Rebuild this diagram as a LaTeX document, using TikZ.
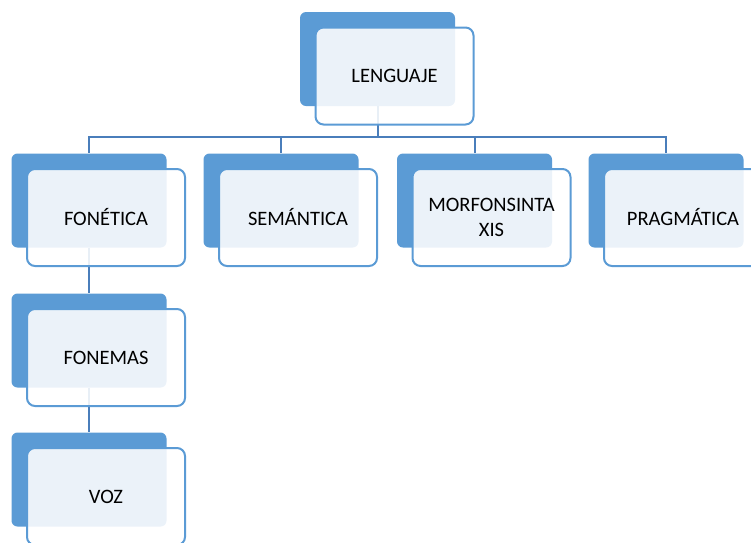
\documentclass[tikz,border=0pt]{standalone}
\usepackage{fontspec}
\setmainfont{Carlito}
\usetikzlibrary{calc, positioning}
\definecolor{boxblue}{HTML}{5B9BD5}
\definecolor{lineblue}{HTML}{4A7EBB}

\tikzset{
    backbox/.style={fill=boxblue, rounded corners=6pt, minimum width=155pt, minimum height=94pt, inner sep=0pt},
    frontbox/.style={draw=boxblue, line width=2pt, fill=white, fill opacity=0.88, text opacity=1,
        rounded corners=8pt, minimum width=158pt, minimum height=97pt, inner sep=0pt,
        align=center, font=\fontsize{20.5}{25}\selectfont},
    conn/.style={draw=lineblue, line width=2pt}
}

\begin{document}
\begin{tikzpicture}[x=1pt, y=-1pt]
    \useasboundingbox (0,0) rectangle (751,542);
    \clip (0,0) rectangle (751,542);

    % back boxes
    \node[backbox] (lengB) at (377.5,59) {};
    \node[backbox] (fonB) at (89,200.5) {};
    \node[backbox] (semB) at (281,200.5) {};
    \node[backbox] (morB) at (474.5,200.5) {};
    \node[backbox] (praB) at (666,200.5) {};
    \node[backbox] (fonemB) at (89,340.5) {};
    \node[backbox] (vozB) at (89,479.5) {};

    % connectors
    \coordinate (bar) at (377.5,137);
    \draw[conn] (lengB.south) -- (bar);
    \foreach \n in {fonB, semB, morB, praB}
        \draw[conn] (bar) -| (\n.north);
    \draw[conn] (fonB.south) -- (fonemB.north);
    \draw[conn] (fonemB.south) -- (vozB.north);

    % front boxes
    \node[frontbox] (leng) at ($(lengB)+(17,17)$) {LENGUAJE};
    \node[frontbox] (fon) at ($(fonB)+(17,17)$) {FONÉTICA};
    \node[frontbox] (sem) at ($(semB)+(17,17)$) {SEMÁNTICA};
    \node[frontbox] (mor) at ($(morB)+(17,17)$) {MORFONSINTA\\XIS};
    \node[frontbox] (pra) at ($(praB)+(17,17)$) {PRAGMÁTICA};
    \node[frontbox] (fonem) at ($(fonemB)+(17,17)$) {FONEMAS};
    \node[frontbox] (voz) at ($(vozB)+(17,17)$) {VOZ};
\end{tikzpicture}
\end{document}
